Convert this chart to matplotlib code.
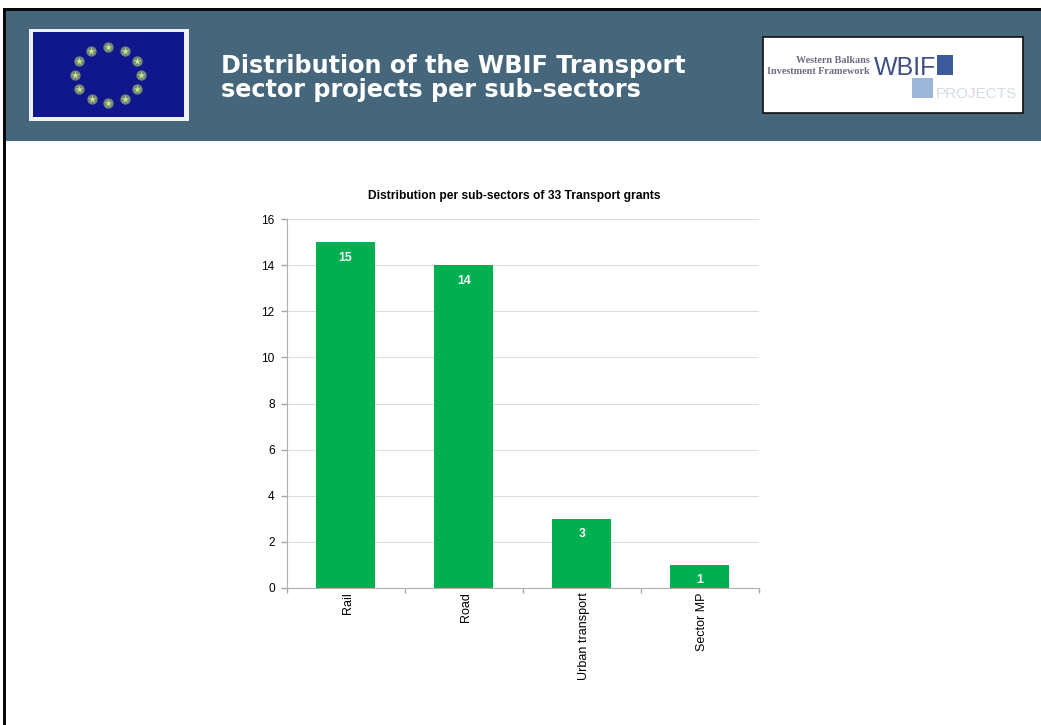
import matplotlib
matplotlib.use('Agg')
import matplotlib.pyplot as plt
from matplotlib.patches import Rectangle
from matplotlib.transforms import ScaledTranslation
import numpy as np

categories = ['Rail', 'Road', 'Urban transport', 'Sector MP']
grants = [15, 14, 3, 1]
y_ticks = [0, 2, 4, 6, 8, 10, 12, 14, 16]
header_lines = ['Distribution of the WBIF Transport', 'sector projects per sub-sectors']
chart_title = 'Distribution per sub-sectors of 33 Transport grants'

W, H = 1041, 725
fig = plt.figure(figsize=(W / 100, H / 100), dpi=100, facecolor='white')

# page furniture, in pixel coordinates
bg = fig.add_axes([0, 0, 1, 1])
bg.set_xlim(0, W)
bg.set_ylim(H, 0)
bg.axis('off')
bg.add_patch(Rectangle((6, 11), W - 6, 130, color='#46677b', lw=0))
bg.add_patch(Rectangle((3, 8), W - 3, 3, color='#0a0a0a', lw=0))
bg.add_patch(Rectangle((3, 8), 3, H - 8, color='#0a0a0a', lw=0))

# flag
bg.add_patch(Rectangle((29, 29), 160, 92, color='#eef0f6', lw=0))
bg.add_patch(Rectangle((33, 32), 151, 85, color='#10168c', lw=0))
angles = np.deg2rad(np.arange(0, 360, 30))
bg.scatter(108 + 33 * np.cos(angles), 75 + 28 * np.sin(angles), s=55, marker='o',
           color='#6f8a78', lw=0, zorder=3)
bg.scatter(108 + 33 * np.cos(angles), 75 + 28 * np.sin(angles), s=30, marker='*',
           color='#d3e08c', lw=0, zorder=4)

# header title
for line, y in zip(header_lines, [73, 97]):
    bg.text(221, y, line, color='white', fontsize=17.2, fontweight='bold',
            family='DejaVu Sans', va='baseline', ha='left')

# WBIF logo
bg.add_patch(Rectangle((763, 37), 260, 76, facecolor='white', edgecolor='#111111', lw=1.2))
bg.text(870, 63, 'Western Balkans', color='#6b6b85', fontsize=7.3, family='Liberation Serif',
        fontweight='bold', ha='right', va='baseline')
bg.text(870, 74, 'Investment Framework', color='#6b6b85', fontsize=7.3, family='Liberation Serif',
        fontweight='bold', ha='right', va='baseline')
bg.text(874, 75, 'WBIF', color='#3f4f86', fontsize=18, family='Liberation Sans',
        ha='left', va='baseline')
bg.add_patch(Rectangle((937, 55), 16, 20, color='#3c5a9c', lw=0))
bg.add_patch(Rectangle((912, 78), 21, 20, color='#9db5d9', lw=0))
bg.text(936, 98, 'PROJECTS', color='#d4dbe6', fontsize=11, family='Liberation Sans',
        ha='left', va='baseline')

# bar chart
ax = fig.add_axes([286.5 / W, 1 - 588 / H, (759 - 286.5) / W, (588 - 219) / H])
ax.patch.set_alpha(0)
x = np.arange(len(categories))
bars = ax.bar(x, grants, width=0.5, color='#00b050', zorder=3)
ax.set_xlim(-0.5, len(categories) - 0.5)
ax.set_ylim(0, 16)
ax.set_yticks(y_ticks)
ax.set_xticks(np.arange(len(categories) + 1) - 0.5)
ax.set_xticklabels([])
ax.set_xticks(x, minor=True)
ax.set_xticklabels(categories, minor=True, rotation=90, fontsize=9,
                   family='Liberation Sans', color='black')
ax.tick_params(axis='x', which='minor', length=0, pad=3)
ax.tick_params(axis='x', which='major', length=3.5, color='#a6a6a6', width=1)
ax.tick_params(axis='y', length=4, color='#a6a6a6', width=1, pad=4.5,
               labelsize=8.6, labelcolor='black')
for lab in ax.get_yticklabels():
    lab.set_family('Liberation Sans')
# rotated labels sit a little right of the bar centre in the original
shift = ScaledTranslation(2 / 100, 0, fig.dpi_scale_trans)
for lab in ax.get_xticklabels(minor=True):
    lab.set_transform(lab.get_transform() + shift)
ax.grid(axis='y', color='#dedede', lw=0.8, zorder=0)
ax.set_axisbelow(True)
for side in ['top', 'right']:
    ax.spines[side].set_visible(False)
for side in ['left', 'bottom']:
    ax.spines[side].set_color('#b0b0b0')
ax.bar_label(bars, labels=[str(g) for g in grants], label_type='edge', padding=-15.5,
             color='white', fontsize=8.8, fontweight='bold', family='Liberation Sans')

fig.text(514 / W, 1 - 196 / H, chart_title, ha='center', va='center', fontsize=8.65,
         fontweight='bold', family='Liberation Sans', color='black')

fig.savefig('out.png', dpi=100)
